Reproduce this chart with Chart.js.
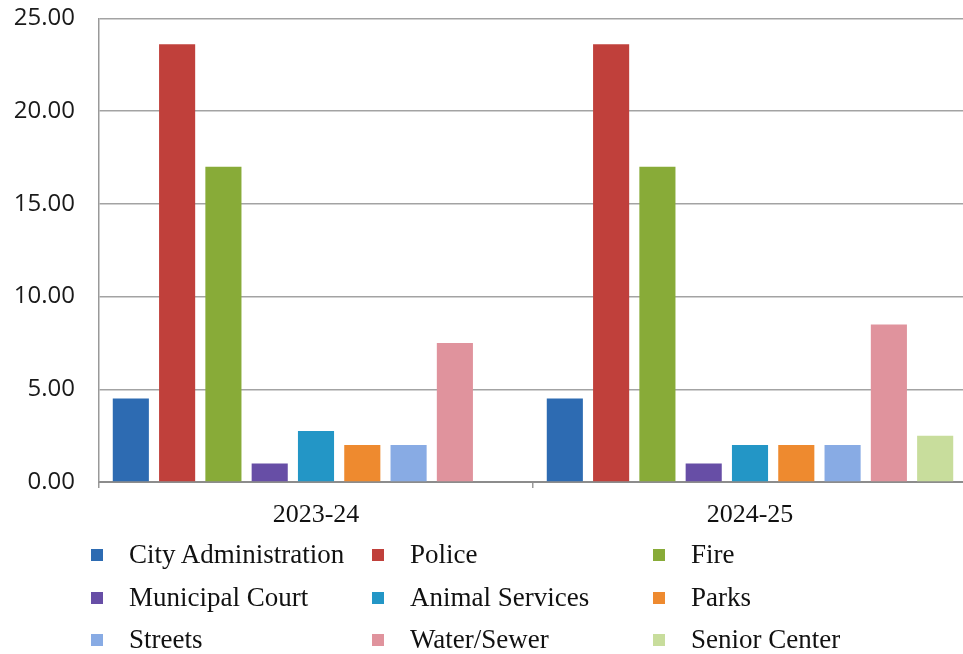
<!DOCTYPE html>
<html>
<head>
<meta charset="utf-8">
<script src="https://cdn.jsdelivr.net/npm/chart.js@4.4.1/dist/chart.umd.min.js"></script>
<style>
    html, body { margin: 0; padding: 0; background: #fff; overflow: hidden; }
    body { width: 963px; height: 654px; position: relative; }
    .chart-box { position: absolute; left: 0; top: -20px; width: 967px; height: 560px; }
    .legend { position: absolute; left: 91px; top: 541px; display: grid;
              grid-template-columns: 281px 281px 281px; grid-auto-rows: 42.5px;
              font-family: "Liberation Serif", "Times New Roman", serif; font-size: 27px; color: #111; }
    .legend-item { display: flex; align-items: flex-start; line-height: 27px; white-space: nowrap; }
    .legend-box { width: 12px; height: 12px; margin-top: 8px; margin-right: 26px; flex: none; }
</style>
</head>
<body>
<div class="chart-box"><canvas id="budgetChart"></canvas></div>
<div class="legend" id="legend"></div>
<script>
const years = ['2023-24', '2024-25'];
const departments = ['City Administration', 'Police', 'Fire', 'Municipal Court', 'Animal Services',
    'Parks', 'Streets', 'Water/Sewer', 'Senior Center'];
const fy2324 = [4.5, 23.6, 17.0, 1.0, 2.75, 2.0, 2.0, 7.5, null];
const fy2425 = [4.5, 23.6, 17.0, 1.0, 2.0, 2.0, 2.0, 8.5, 2.5];
const deptColors = ['#2d6bb2', '#c0403b', '#88ab38', '#674ea6', '#2396c6',
    '#ee8a2f', '#88abe4', '#e0939d', '#c8dd9c'];
const yTicks = [0, 5, 10, 15, 20, 25];

const datasets = departments.map((name, i) => ({
    label: name,
    data: [fy2324[i], fy2425[i]],
    backgroundColor: deptColors[i],
    borderWidth: 0,
    categoryPercentage: 0.96,
    barPercentage: 0.78
}));

const ctx = document.getElementById('budgetChart').getContext('2d');
const chart = new Chart(ctx, {
    type: 'bar',
    data: { labels: years, datasets: datasets },
    options: {
        responsive: true,
        maintainAspectRatio: false,
        animation: false,
        layout: { padding: { top: 0, left: 0, right: 0, bottom: 0 } },
        plugins: { legend: { display: false }, tooltip: { enabled: false } },
        scales: {
            x: {
                grid: { drawOnChartArea: false, drawTicks: true, tickLength: 6, color: '#999', lineWidth: 1.5 },
                border: { color: '#8c8c8c', width: 2 },
                ticks: {
                    padding: 12,
                    color: '#111',
                    font: { family: '"Liberation Serif", "Times New Roman", serif', size: 26 }
                },
                afterFit: scale => { scale.height = 58; }
            },
            y: {
                min: 0,
                max: 25,
                afterBuildTicks: scale => { scale.ticks = yTicks.map(v => ({ value: v })); },
                grid: { color: '#a3a3a3', lineWidth: 1.5, drawTicks: false },
                border: { color: '#999', width: 1.5 },
                ticks: {
                    padding: 24,
                    color: '#1a1a1a',
                    font: { family: '"Open Sans", sans-serif', size: 24 },
                    callback: v => Number(v).toFixed(2)
                },
                afterFit: scale => { scale.width = 99; }
            }
        }
    }
});

const legendEl = document.getElementById('legend');
chart.data.datasets.forEach(ds => {
    const item = document.createElement('div');
    item.className = 'legend-item';
    item.innerHTML = `<span class="legend-box" style="background:${ds.backgroundColor}"></span><span>${ds.label}</span>`;
    legendEl.appendChild(item);
});
</script>
</body>
</html>
